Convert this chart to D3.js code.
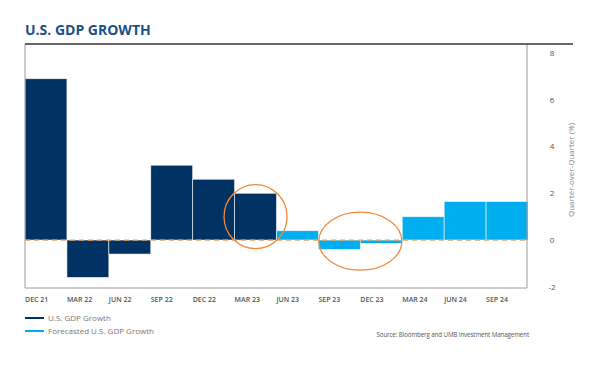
<!DOCTYPE html>
<html>
<head>
<meta charset="utf-8">
<script src="https://cdn.jsdelivr.net/npm/d3@7"></script>
<style>
  body { margin: 0; background: #fff; }
  text { font-family: "Open Sans", "DejaVu Sans", sans-serif; }
</style>
</head>
<body>
<div class="canvas"></div>
<script>
// quarters shown on the x axis
const quarters = ['DEC 21', 'MAR 22', 'JUN 22', 'SEP 22', 'DEC 22', 'MAR 23',
  'JUN 23', 'SEP 23', 'DEC 23', 'MAR 24', 'JUN 24', 'SEP 24'];

// quarter-over-quarter growth (%)
const growth = [6.9, -1.6, -0.6, 3.2, 2.6, 2.0, 0.4, -0.4, -0.15, 1.0, 1.65, 1.65];

// which bars are forecasts
const forecast = [false, false, false, false, false, false, true, true, true, true, true, true];

const yTicks = [-2, 0, 2, 4, 6, 8];

const colors = {actual: '#003263', forecast: '#00aeef', ring: '#f08a3c'};

// chart dimensions
const dims = {width: 600, height: 367};
const plot = {left: 25, right: 528, top: 44, bottom: 288};

const svg = d3.select('.canvas')
  .append('svg')
  .attr('width', dims.width)
  .attr('height', dims.height);

const x = d3.scaleBand()
  .domain(quarters)
  .range([plot.left, plot.right])
  .padding(0);

const y = d3.scaleLinear()
  .domain([-2, 8])
  .range([286.8, 53]);

// title
svg.append('text')
  .attr('x', 25)
  .attr('y', 35)
  .attr('fill', '#1b4f89')
  .style('font-size', '14px')
  .style('font-weight', 700)
  .text('U.S. GDP GROWTH');

// bars
const data = quarters.map((q, i) => ({q, v: growth[i], f: forecast[i]}));

svg.append('g').selectAll('rect')
  .data(data)
  .enter().append('rect')
  .attr('x', d => x(d.q))
  .attr('width', x.bandwidth())
  .attr('y', d => y(Math.max(0, d.v)))
  .attr('height', d => Math.abs(y(d.v) - y(0)))
  .attr('fill', d => d.f ? colors.forecast : colors.actual)
  .attr('stroke', 'rgba(255,255,255,0.7)')
  .attr('stroke-width', 0.8);

// zero line
svg.append('line')
  .attr('x1', plot.left).attr('x2', plot.right)
  .attr('y1', y(0)).attr('y2', y(0))
  .attr('stroke', '#e8a060')
  .attr('stroke-width', 1.2)
  .attr('stroke-dasharray', '5,4');

// frame
svg.append('path')
  .attr('d', `M${plot.left},${plot.top}V${plot.bottom}H${plot.right - 1}V${plot.top}`)
  .attr('fill', 'none')
  .attr('stroke', '#9a9a9a')
  .attr('stroke-width', 1);

svg.append('line')
  .attr('x1', plot.left).attr('x2', 573)
  .attr('y1', plot.top).attr('y2', plot.top)
  .attr('stroke', '#333')
  .attr('stroke-width', 1.5);

// y tick labels on the right
svg.append('g').selectAll('text')
  .data(yTicks)
  .enter().append('text')
  .attr('x', 552)
  .attr('y', d => y(d))
  .attr('dy', '0.35em')
  .attr('text-anchor', 'middle')
  .attr('fill', '#555')
  .style('font-size', '8px')
  .text(d => d);

svg.append('text')
  .attr('transform', 'translate(574,170) rotate(-90)')
  .attr('text-anchor', 'middle')
  .attr('fill', '#888')
  .style('font-size', '8px')
  .text('Quarter-over-Quarter (%)');

// x labels, left aligned to each bar
svg.append('g').selectAll('text')
  .data(quarters)
  .enter().append('text')
  .attr('x', d => x(d))
  .attr('y', 302)
  .attr('fill', '#555')
  .style('font-size', '7px')
  .style('font-weight', 600)
  .text(d => d);

// rings highlighting the turn
const rings = [
  {cx: x('MAR 23') + x.bandwidth() / 2, cy: y(1.0), rx: 31.5, ry: 32},
  {cx: x('DEC 23'), cy: y(-0.05), rx: 41.5, ry: 29}
];

svg.append('g').selectAll('ellipse')
  .data(rings)
  .enter().append('ellipse')
  .attr('cx', d => d.cx)
  .attr('cy', d => d.cy)
  .attr('rx', d => d.rx)
  .attr('ry', d => d.ry)
  .attr('fill', 'none')
  .attr('stroke', colors.ring)
  .attr('stroke-width', 1.3);

// legend
const legend = [
  {label: 'U.S. GDP Growth', color: colors.actual},
  {label: 'Forecasted U.S. GDP Growth', color: colors.forecast}
];

const lg = svg.append('g').selectAll('g')
  .data(legend)
  .enter().append('g')
  .attr('transform', (d, i) => `translate(25, ${318 + i * 13})`);

lg.append('line')
  .attr('x1', 0).attr('x2', 19)
  .attr('stroke', d => d.color)
  .attr('stroke-width', 2);

lg.append('text')
  .attr('x', 23)
  .attr('dy', '0.35em')
  .attr('fill', '#777')
  .style('font-size', '8px')
  .text(d => d.label);

// source
svg.append('text')
  .attr('x', 529)
  .attr('y', 337)
  .attr('text-anchor', 'end')
  .attr('fill', '#555')
  .style('font-size', '6.2px')
  .style('letter-spacing', '-0.1px')
  .text('Source: Bloomberg and UMB Investment Management');
</script>
</body>
</html>
